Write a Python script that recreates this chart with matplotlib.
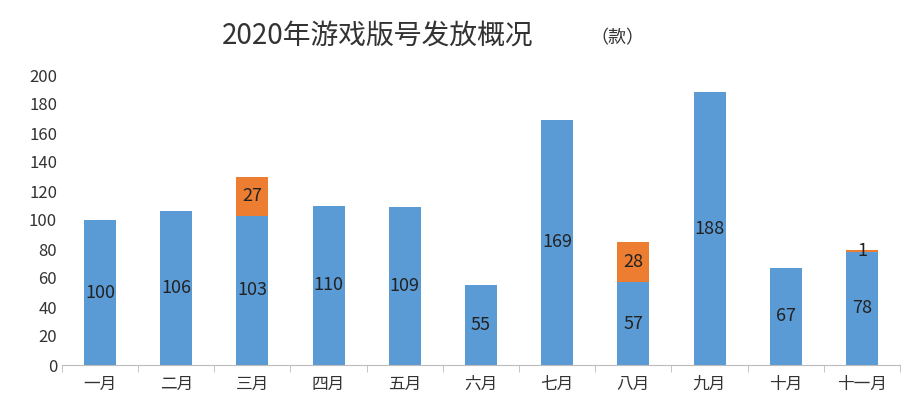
import matplotlib
matplotlib.use("Agg")
import matplotlib.pyplot as plt
import numpy as np

plt.rcParams["font.family"] = ["Noto Sans CJK SC", "Noto Sans CJK JP", "Noto Sans CJK TC", "DejaVu Sans"]

categories = ["一月", "二月", "三月", "四月", "五月", "六月", "七月", "八月", "九月", "十月", "十一月"]
domestic = [100, 106, 103, 110, 109, 55, 169, 57, 188, 67, 78]
imported = [0, 0, 27, 0, 0, 0, 0, 28, 0, 0, 1]
yticks = list(range(0, 201, 20))

fig = plt.figure(figsize=(9.24, 4.0), dpi=100)
ax = fig.add_axes([0.067, 0.0875, 0.907, 0.725])
x = np.arange(len(categories))
w = 0.42
ax.bar(x, domestic, w, color="#5B9BD5")
ax.bar(x, imported, w, bottom=domestic, color="#ED7D31")
for i, (d, m) in enumerate(zip(domestic, imported)):
    ax.text(i, d / 2, str(d), ha="center", va="center", fontsize=13, color="#222222")
    if m:
        ax.text(i, d + max(m, 1) / 2, str(m), ha="center", va="center", fontsize=13, color="#222222")

ax.set_xlim(-0.5, len(categories) - 0.5)
ax.set_ylim(0, 200)
ax.set_yticks(yticks)
ax.set_xticks(x)
ax.set_xticklabels(categories)
ax.set_xticks(np.arange(-0.5, len(categories)), minor=True)
ax.tick_params(axis="x", which="major", length=0, labelsize=12, colors="#333333", pad=8)
ax.tick_params(axis="x", which="minor", length=5, color="#bbbbbb")
ax.tick_params(axis="y", length=0, labelsize=12, colors="#333333")
for s in ["top", "right", "left"]:
    ax.spines[s].set_visible(False)
ax.spines["bottom"].set_color("#bbbbbb")

fig.text(0.24, 0.91, "2020年游戏版号发放概况", ha="left", va="center", fontsize=20, color="#333333")
fig.text(0.668, 0.905, "（款）", ha="center", va="center", fontsize=13, color="#333333")
fig.savefig("out.png", dpi=100)
